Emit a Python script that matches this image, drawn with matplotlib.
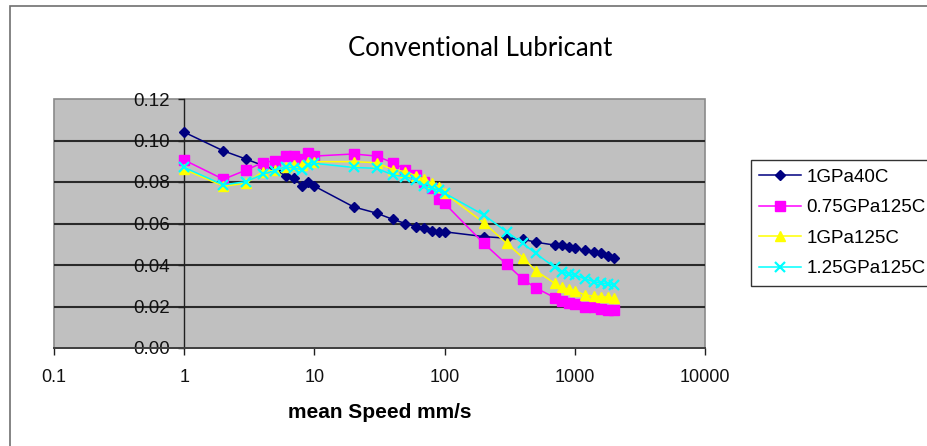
import matplotlib
matplotlib.use("Agg")
import matplotlib.pyplot as plt
from matplotlib.patches import Rectangle
from matplotlib.ticker import FixedLocator, FixedFormatter, FormatStrFormatter, NullLocator

plt.rcParams['font.family'] = ['Liberation Sans', 'DejaVu Sans']

# ---- data ----
speed = [1, 2, 3, 4, 5, 6, 7, 8, 9, 10, 20, 30, 40, 50, 60, 70, 80, 90, 100,
         200, 300, 400, 500, 700, 800, 900, 1000, 1200, 1400, 1600, 1800, 2000]

gpa1_40c = [0.104, 0.095, 0.091, 0.088, 0.086, 0.083, 0.082, 0.078, 0.080, 0.078,
            0.068, 0.065, 0.062, 0.060, 0.0585, 0.0577, 0.0565, 0.056, 0.056,
            0.0537, 0.0529, 0.0524, 0.051, 0.0496, 0.0496, 0.0488, 0.048,
            0.0472, 0.0464, 0.0456, 0.0443, 0.0435]

gpa075_125c = [0.0906, 0.0813, 0.0858, 0.0893, 0.0903, 0.0925, 0.0925, 0.091, 0.0938, 0.0925,
               0.0935, 0.0925, 0.0893, 0.086, 0.0834, 0.080, 0.077, 0.072, 0.0697,
               0.0504, 0.0403, 0.0331, 0.029, 0.0243, 0.0228, 0.0218, 0.0212,
               0.0196, 0.0196, 0.0188, 0.0183, 0.0183]

gpa1_125c = [0.0861, 0.078, 0.0794, 0.085, 0.0858, 0.087, 0.088, 0.088, 0.0898, 0.0898,
             0.0898, 0.0893, 0.086, 0.085, 0.083, 0.0813, 0.0794, 0.0775, 0.0746,
             0.0604, 0.0504, 0.0435, 0.0373, 0.0312, 0.0292, 0.0283, 0.0276,
             0.0255, 0.025, 0.0248, 0.0245, 0.024]

gpa125_125c = [0.087, 0.0786, 0.0802, 0.0837, 0.0855, 0.0874, 0.0866, 0.086, 0.088, 0.089,
               0.087, 0.0866, 0.0834, 0.0826, 0.081, 0.078, 0.077, 0.0761, 0.0746,
               0.0641, 0.056, 0.0504, 0.0456, 0.0389, 0.0368, 0.0357, 0.0352,
               0.0333, 0.032, 0.0312, 0.031, 0.0304]

series_labels = ['1GPa40C', '0.75GPa125C', '1GPa125C', '1.25GPa125C']
x_ticks = [0.1, 1, 10, 100, 1000, 10000]
x_tick_labels = ['0.1', '1', '10', '100', '1000', '10000']
y_ticks = [0.00, 0.02, 0.04, 0.06, 0.08, 0.10, 0.12]

# ---- figure ----
W, H = 927, 446
fig = plt.figure(figsize=(W / 100, H / 100), dpi=100)
fig.patch.set_facecolor('white')

# outer chart border (left, top visible)
fig.add_artist(Rectangle((10 / W, -0.1), 2.0, 1.1 - 6 / H, transform=fig.transFigure,
                         fill=False, edgecolor='#707070', linewidth=1.2))

ax = fig.add_axes([54 / W, (H - 348) / H, 651 / W, 249 / H])
ax.set_facecolor('#C0C0C0')
ax.patch.set_edgecolor('#8a8a8a')
ax.patch.set_linewidth(1.2)

ax.set_xscale('log')
ax.set_xlim(0.1, 10000)
ax.set_ylim(0, 0.12)

for v in y_ticks[1:-1]:
    ax.axhline(v, color='#2a2a2a', linewidth=1.5, zorder=1)

styles = [
    dict(color='#000080', marker='D', markersize=5.5, markerfacecolor='#000080', markeredgecolor='#000080'),
    dict(color='#FF00FF', marker='s', markersize=6.5, markerfacecolor='#FF00FF', markeredgecolor='#FF00FF'),
    dict(color='#FFFF00', marker='^', markersize=7.5, markerfacecolor='#FFFF00', markeredgecolor='#FFFF00'),
    dict(color='#00FFFF', marker='x', markersize=7.5, markeredgewidth=1.6, markeredgecolor='#00FFFF'),
]
for ys, lab, st in zip([gpa1_40c, gpa075_125c, gpa1_125c, gpa125_125c], series_labels, styles):
    ax.plot(speed, ys, label=lab, linewidth=1.1, zorder=3, clip_on=False, **st)

# spines
ax.spines['left'].set_position(('data', 1))
ax.spines['left'].set_color('#202020')
ax.spines['left'].set_linewidth(1.0)
ax.spines['bottom'].set_color('#404040')
ax.spines['bottom'].set_linewidth(1.4)
ax.spines['top'].set_visible(False)
ax.spines['right'].set_visible(False)

ax.xaxis.set_major_locator(FixedLocator(x_ticks))
ax.xaxis.set_major_formatter(FixedFormatter(x_tick_labels))
ax.xaxis.set_minor_locator(NullLocator())
ax.yaxis.set_major_locator(FixedLocator(y_ticks))
ax.yaxis.set_major_formatter(FormatStrFormatter('%.2f'))

ax.tick_params(axis='x', direction='out', length=5, width=1.0, color='#202020',
               labelsize=13, pad=10, labelcolor='#111111')
ax.tick_params(axis='y', direction='out', length=4.5, width=1.0, color='#202020',
               labelsize=13.5, pad=6, labelcolor='#111111')

fig.text(480 / W, 1 - 49 / H, 'Conventional Lubricant', ha='center', va='center',
         fontsize=18.5, family=['Lato', 'DejaVu Sans'], color='#000000')
fig.text(380 / W, 1 - 413 / H, 'mean Speed mm/s', ha='center', va='center',
         fontsize=15, fontweight='bold', color='#000000')

leg = ax.legend(loc='upper left', bbox_to_anchor=(751 / W, 1 - 160 / H),
                bbox_transform=fig.transFigure, borderaxespad=0, frameon=True,
                fancybox=False, edgecolor='#000000', fontsize=13.5,
                handlelength=2.2, handletextpad=0.3, labelspacing=0.72,
                borderpad=0.45)
leg.get_frame().set_linewidth(1.0)

fig.savefig('out.png', dpi=100)
